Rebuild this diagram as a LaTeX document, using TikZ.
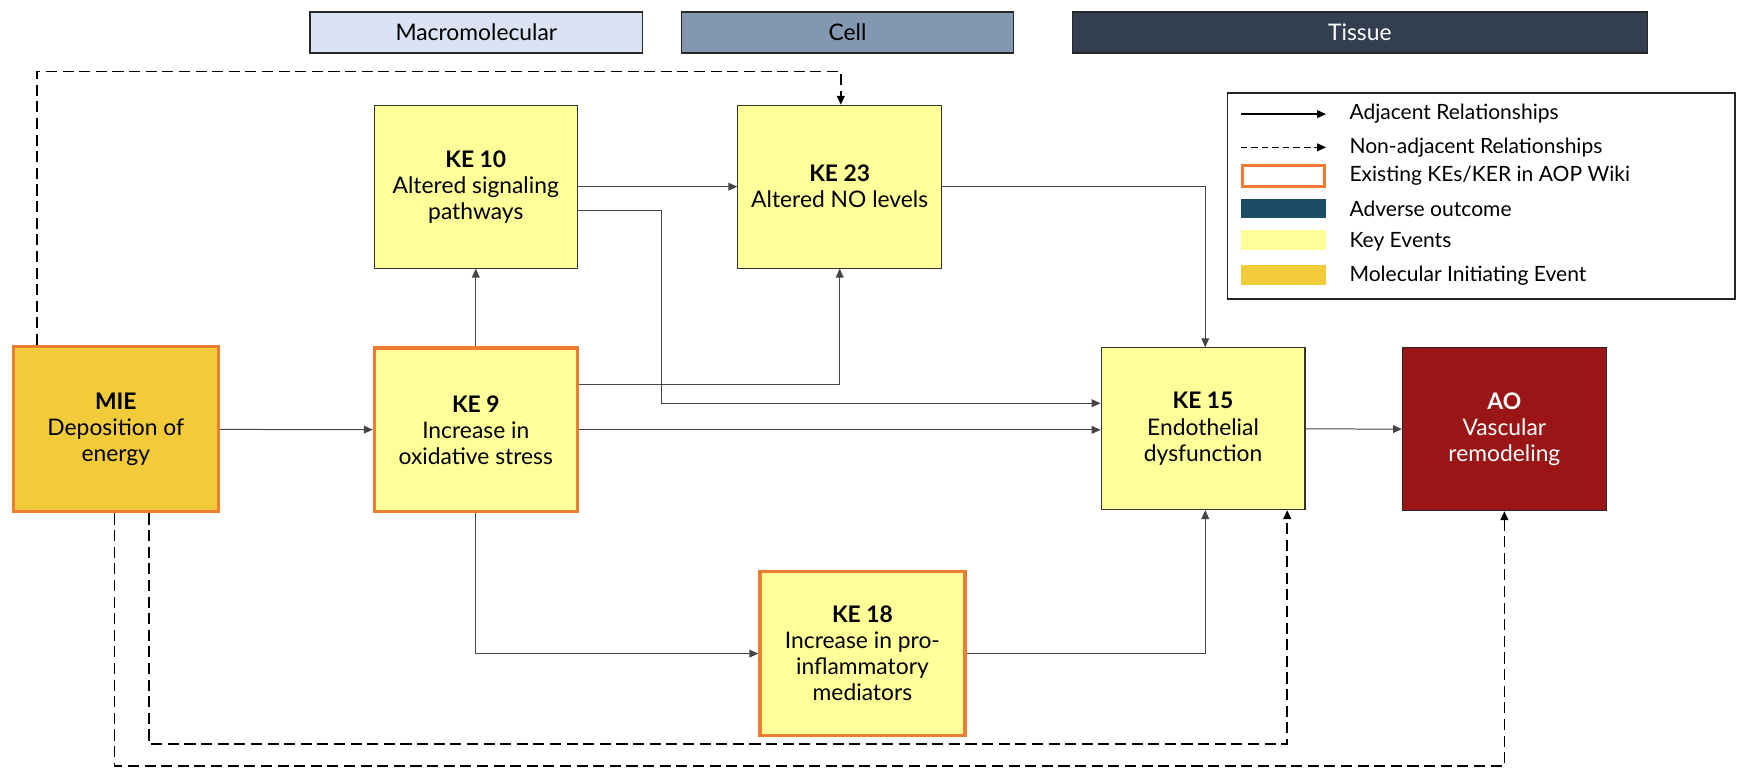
\documentclass[tikz,border=0pt]{standalone}
\usepackage{fontspec}
\setmainfont{Lato}
\usetikzlibrary{arrows.meta,calc}

\definecolor{keyellow}{HTML}{FFFF99}
\definecolor{miegold}{HTML}{F1CB3A}
\definecolor{exorange}{HTML}{ED7D31}
\definecolor{aored}{HTML}{9A1515}
\definecolor{aoblue}{HTML}{1B4D66}
\definecolor{macroblue}{HTML}{DAE3F3}
\definecolor{cellblue}{HTML}{8497B0}
\definecolor{tissueslate}{HTML}{333F50}
\definecolor{linegray}{HTML}{454545}

\newcommand{\boxfont}{\fontsize{20.6}{23.5}\selectfont}
\newcommand{\legfont}{\fontsize{19}{22}\selectfont}

\tikzset{
  evbox/.style={rectangle, draw=black!80, line width=1pt, fill=keyellow,
    align=center, font=\boxfont, inner sep=0pt},
  exbox/.style={evbox, draw=exorange, line width=3pt},
  miebox/.style={exbox, fill=miegold},
  aobox/.style={evbox, fill=aored, text=white, draw=black!85},
  levelbox/.style={rectangle, draw=black!85, line width=1.3pt, font=\boxfont,
    minimum width=300pt, minimum height=37pt, inner sep=0pt},
  adj/.style={draw=linegray, line width=0.9pt,
    -{Triangle[length=8pt,width=7pt]}},
  nonadj/.style={draw=black, line width=1.5pt, dash pattern=on 10pt off 5pt,
    -{Triangle[length=8pt,width=7pt]}},
  legtext/.style={anchor=west, font=\legfont, inner sep=0pt}
}

\begin{document}
\begin{tikzpicture}[x=1pt, y=-1pt]
\useasboundingbox (0,0) rectangle (1568,694);

% level headers
\node[levelbox, fill=macroblue] (macro) at (430,29.5) {Macromolecular};
\node[levelbox, fill=cellblue] (cell) at (765,29.5) {Cell};
\node[levelbox, fill=tissueslate, text=white, minimum width=519pt] (tissue) at (1227.5,29.5) {Tissue};

% events
\node[miebox, minimum width=185pt, minimum height=149pt] (mie) at (104.5,387.5)
  {\textbf{MIE}\\Deposition of\\energy};
\node[exbox, minimum width=183pt, minimum height=148pt] (ke9) at (429.5,388)
  {\textbf{KE 9}\\Increase in\\oxidative stress};
\node[evbox, minimum width=183pt, minimum height=147pt] (ke10) at (429.5,168.5)
  {\textbf{KE 10}\\Altered signaling\\pathways};
\node[evbox, minimum width=184pt, minimum height=147pt] (ke23) at (758,168.5)
  {\textbf{KE 23}\\Altered NO levels};
\node[evbox, minimum width=184pt, minimum height=146pt] (ke15) at (1086,387)
  {\textbf{KE 15}\\Endothelial\\dysfunction};
\node[aobox, minimum width=184pt, minimum height=147pt] (ao) at (1358,387.5)
  {\textbf{AO}\\Vascular\\remodeling};
\node[exbox, minimum width=185pt, minimum height=148pt] (ke18) at (778.5,590)
  {\textbf{KE 18}\\Increase in pro-\\inflammatory\\mediators};

% adjacent relationships
\draw[adj] (mie) -- (ke9);
\draw[adj] (ke9.north) -- (ke10.south);
\draw[adj] (ke10) -- (ke23);
\draw[adj] ($(ke10.east)+(0,21.5)$) -- ++(76,0) |- ($(ke15.west)+(0,-23)$);
\draw[adj] ($(ke9.east)+(0,-41)$) -| (ke23.south);
\draw[adj] (ke9.east) -- (ke9.east -| ke15.west);
\draw[adj] (ke23.east) -| ($(ke15.north)+(2,0)$);
\draw[adj] (ke15) -- (ao);
\draw[adj] (ke9.south) |- (ke18.west);
\draw[adj] (ke18.east) -| ($(ke15.south)+(2,0)$);

% non-adjacent relationships
\draw[nonadj] ($(mie.north west)+(23,0)$) |- ($(ke23.north)+(1,-30)$) -- ($(ke23.north)+(1,0)$);
\draw[nonadj] ($(mie.south)+(30,0)$) |- ($(ke15.south)+(76,211)$) -- ($(ke15.south)+(76,0)$);
\draw[nonadj] ($(mie.south)+(-1,0)$) |- ($(ao.south)+(0,230)$) -- (ao.south);

% legend
\node[draw=black!85, line width=1.3pt, minimum width=458pt, minimum height=186pt,
  inner sep=0pt] (legend) at (1337,177) {};
\draw[black, line width=1.2pt, -{Triangle[length=8pt,width=7pt]}] (1120,103) -- (1197,103);
\node[legtext] (l1) at (1218,103) {Adjacent Relationships};
\draw[black, line width=1.2pt, dash pattern=on 6pt off 3.5pt, -{Triangle[length=8pt,width=7pt]}] (1120,133) -- (1197,133);
\node[legtext] (l2) at (1218,133) {Non-adjacent Relationships};
\draw[exorange, line width=3pt, fill=white] (1121.5,149.5) rectangle (1195.5,168.5);
\node[legtext] (l3) at (1218,159) {Existing KEs/KER in AOP Wiki};
\fill[aoblue] (1120,180) rectangle (1197,197);
\node[legtext] (l4) at (1218,188.5) {Adverse outcome};
\fill[keyellow] (1120,208) rectangle (1197,226);
\node[legtext] (l5) at (1218,218) {Key Events};
\fill[miegold] (1120,239) rectangle (1197,257);
\node[legtext] (l6) at (1218,249) {Molecular Initiating Event};
\end{tikzpicture}
\end{document}
